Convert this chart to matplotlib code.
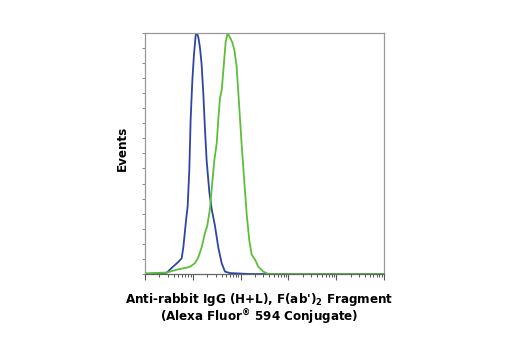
import matplotlib
matplotlib.use("Agg")
import matplotlib.pyplot as plt
from matplotlib.ticker import LogLocator, NullFormatter

# histogram traces (intensity, relative events)
blue_x = [1.08, 2.84, 3.61, 4.98, 5.85, 6.34, 7.21, 7.81, 8.46, 9.02, 9.78, 10.6,
          11.5, 12.2, 13.1, 14.1, 15.3, 16.6, 18.0, 19.5, 22.2, 24.8, 29.1, 34.2,
          40.2, 47.2, 60.0, 157, 100000]
blue_y = [0.0, 0.005, 0.025, 0.05, 0.065, 0.11, 0.22, 0.28, 0.43, 0.64, 0.80, 0.91,
          0.99, 1.0, 0.98, 0.94, 0.87, 0.75, 0.60, 0.47, 0.34, 0.27, 0.20, 0.11,
          0.045, 0.01, 0.004, 0.0, 0.0]

green_x = [1.08, 2.84, 4.6, 6.87, 8.74, 11.1, 13.1, 15.3, 18.0, 20.1, 22.9, 25.6,
           28.2, 31.6, 34.2, 37.1, 40.2, 43.5, 48.7, 53.6, 60.0, 67.1, 73.9, 82.7,
           94.0, 105, 118, 134, 152, 171, 200, 235, 299, 380, 100000]
green_y = [0.003, 0.006, 0.018, 0.025, 0.03, 0.045, 0.07, 0.11, 0.17, 0.20, 0.27, 0.38,
           0.47, 0.54, 0.64, 0.73, 0.76, 0.84, 0.96, 1.0, 0.98, 0.96, 0.93, 0.86,
           0.69, 0.54, 0.40, 0.25, 0.14, 0.08, 0.06, 0.03, 0.01, 0.0, 0.0]

label_font = dict(family="DejaVu Sans", stretch="condensed", fontweight="bold", fontsize=9.5)
plt.rcParams["mathtext.fontset"] = "custom"
plt.rcParams["mathtext.rm"] = "DejaVu Sans:weight=bold:stretch=condensed"
plt.rcParams["mathtext.bf"] = "DejaVu Sans:weight=bold:stretch=condensed"

fig = plt.figure(figsize=(5.2, 3.5), dpi=100)
ax = fig.add_axes([0.2788, 0.2171, 0.4596, 0.6894])

ax.plot(blue_x, blue_y, color="#2e45a3", linewidth=1.3)
ax.plot(green_x, green_y, color="#5cbf3a", linewidth=1.3)

ax.set_xscale("log")
ax.set_xlim(1, 1e5)
ax.set_ylim(0, 1.0)

ax.xaxis.set_major_locator(LogLocator(base=10, numticks=10))
ax.xaxis.set_minor_locator(LogLocator(base=10, subs=range(2, 10), numticks=20))
ax.xaxis.set_major_formatter(NullFormatter())
ax.xaxis.set_minor_formatter(NullFormatter())
ax.set_yticks([i / 16 for i in range(17)])
ax.set_yticklabels([])

ax.tick_params(axis="x", which="major", length=4, width=0.8, color="#555555")
ax.tick_params(axis="x", which="minor", length=2.2, width=0.7, color="#555555")
ax.tick_params(axis="y", which="major", length=2.5, width=0.6, color="#777777")
for s in ax.spines.values():
    s.set_color("#999999")
    s.set_linewidth(0.9)
ax.spines["bottom"].set_color("#666666")

fig.text(122.5 / 520, 1 - 148.5 / 350, "Events", rotation=90,
         ha="center", va="center", **label_font)
fig.text(259 / 520, 1 - 299 / 350, "Anti-rabbit IgG (H+L), F(ab')$_2$ Fragment",
         ha="center", va="center", **label_font)
fig.text(259 / 520, 1 - 317 / 350, "(Alexa Fluor$^{®}$ 594 Conjugate)",
         ha="center", va="center", **label_font)

fig.savefig("out.png", dpi=100)
